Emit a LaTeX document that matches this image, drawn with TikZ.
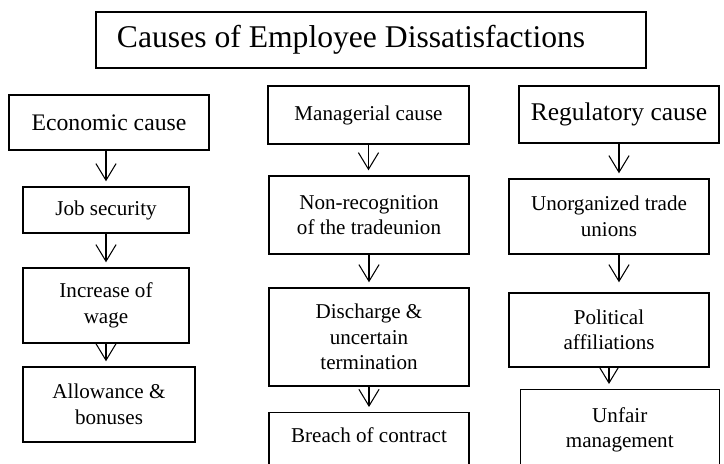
\documentclass[tikz,border=0pt]{standalone}
\usepackage{fontspec}
\setmainfont{Liberation Serif}
\usetikzlibrary{arrows.meta,positioning}

\begin{document}
\begin{tikzpicture}
    [
      heading/.style={draw,line width=0.8pt,inner xsep=0.42cm,text width=10.16cm,align=flush left,minimum height=1.12cm,font=\fontsize{18}{21}\selectfont},
      cause/.style={draw,line width=0.8pt,minimum width=4cm,align=center},
      item/.style={draw,line width=0.8pt,minimum width=4cm,align=center,font=\fontsize{12}{14.5}\selectfont},
      post/.style={-{Straight Barb[length=9.5pt,width=11.5pt]},line width=0.6pt,shorten >=1mm},
    ]
    \useasboundingbox (0,0) rectangle (14.48,-9.28);

    \node (title) [heading] at (7.42,-0.80) {Causes of Employee Dissatisfactions};

    \node (econ) [cause,minimum height=1.10cm,font=\fontsize{13.5}{16}\selectfont] at (2.18,-2.45) {Economic cause};
    \node (manag) [cause,minimum width=4.02cm,minimum height=1.16cm,font=\fontsize{12}{14.5}\selectfont] at (7.37,-2.30) {Managerial cause};
    \node (regul) [cause,minimum height=1.14cm,font=\fontsize{14.5}{17}\selectfont] at (12.38,-2.29) {Regulatory cause};

    % economic column
    \node (job) [item,minimum width=3.32cm,minimum height=0.92cm] at (2.12,-4.20) {Job security};
    \node (wage) [item,minimum width=3.32cm,minimum height=1.50cm] at (2.12,-6.11) {Increase of\\wage};
    \node (allow) [item,minimum width=3.44cm,minimum height=1.50cm] at (2.18,-8.09) {Allowance \&\\bonuses};

    % managerial column
    \node (nonrec) [item,minimum height=1.56cm] at (7.38,-4.30) {Non-recognition\\of the tradeunion};
    \node (disch) [item,minimum height=1.96cm] at (7.38,-6.74) {Discharge \&\\uncertain\\termination};
    \node (breach) [item,anchor=north,minimum height=1.4cm,text depth=14pt] at (7.38,-8.24) {Breach of contract};

    % regulatory column
    \node (unorg) [item,minimum height=1.50cm] at (12.18,-4.33) {Unorganized trade\\unions};
    \node (polit) [item,minimum height=1.48cm] at (12.18,-6.60) {Political\\affiliations};
    \node (unfair) [item,anchor=north,minimum width=3.98cm,minimum height=1.6cm] at (12.395,-7.78) {Unfair\\management};

    \path
    (econ.south -| job.north) edge [post] (job.north)
    (job) edge [post] (wage)
    (wage.south) edge [post] (wage.south |- allow.north)

    (manag.south) edge [post] (manag.south |- nonrec.north)
    (nonrec) edge [post] (disch)
    (disch.south) edge [post] (disch.south |- breach.north)

    (regul.south) edge [post] (regul.south |- unorg.north)
    (unorg.south -| regul.south) edge [post,shorten >=2mm] (polit.north -| regul.south)
    (polit.south) edge [post] (polit.south |- unfair.north)
    ;

  \end{tikzpicture}
\end{document}
